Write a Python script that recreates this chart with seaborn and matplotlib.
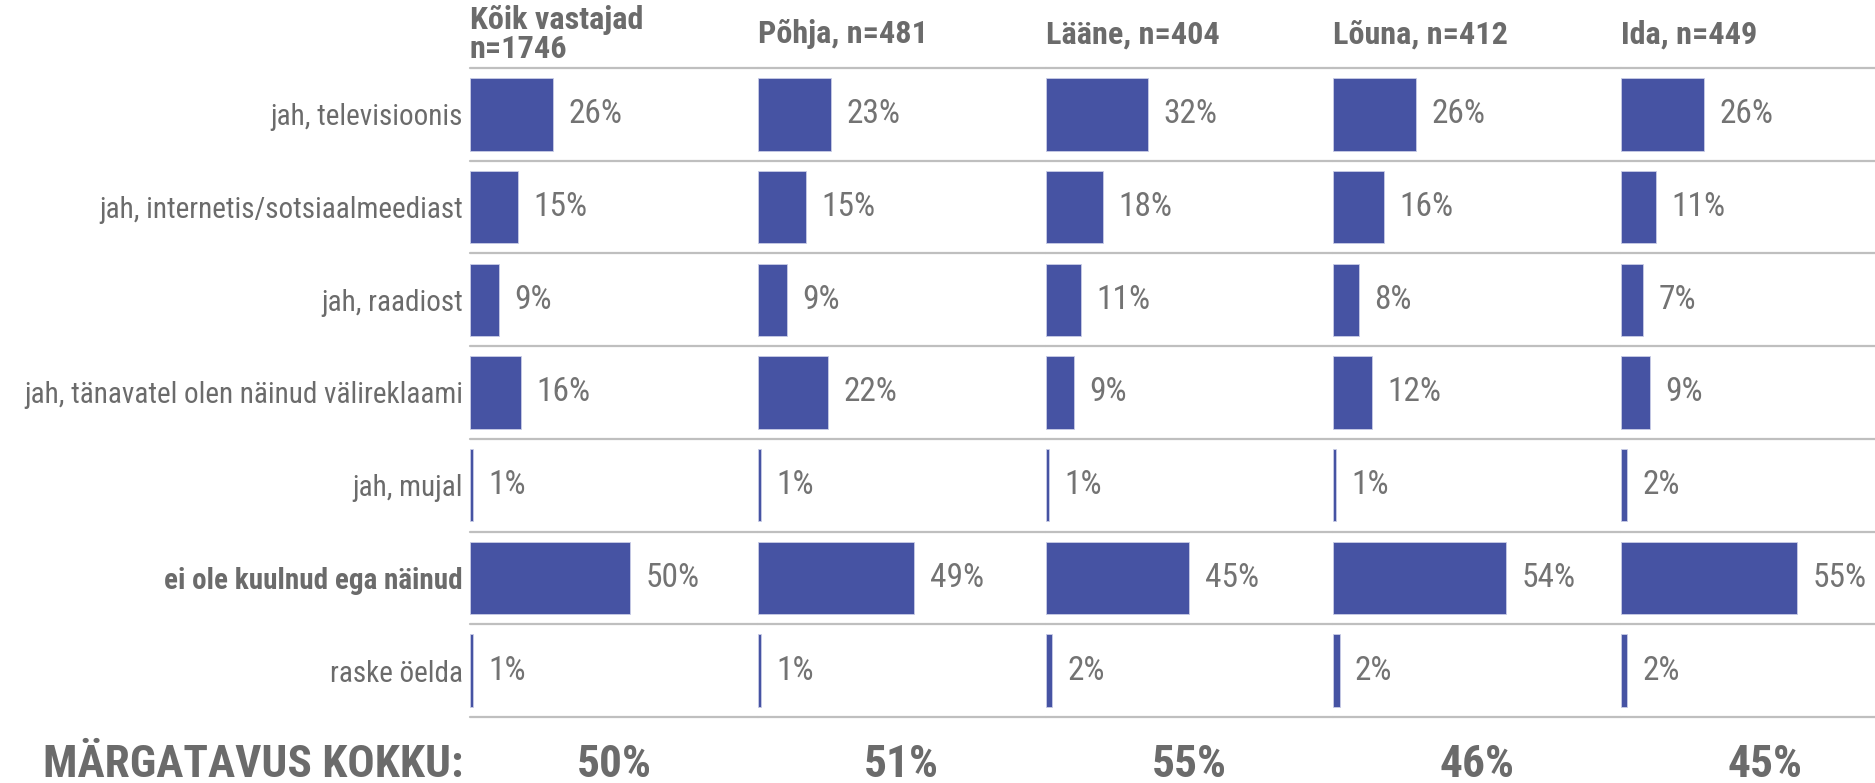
import pandas as pd
import seaborn as sns
import matplotlib.pyplot as plt
from matplotlib import font_manager as fm
from matplotlib.font_manager import FontProperties
from matplotlib.textpath import TextPath

# andmed
categories = [
    "jah, televisioonis",
    "jah, internetis/sotsiaalmeediast",
    "jah, raadiost",
    "jah, tänavatel olen näinud välireklaami",
    "jah, mujal",
    "ei ole kuulnud ega näinud",
    "raske öelda",
]
groups = ["Kõik vastajad\nn=1746", "Põhja, n=481", "Lääne, n=404", "Lõuna, n=412", "Ida, n=449"]
koik = [26, 15, 9, 16, 1, 50, 1]
pohja = [23, 15, 9, 22, 1, 49, 1]
laane = [32, 18, 11, 9, 1, 45, 2]
louna = [26, 16, 8, 12, 1, 54, 2]
ida = [26, 11, 7, 9, 2, 55, 2]
totals = [50, 51, 55, 46, 45]
total_label = "MÄRGATAVUS KOKKU:"

series = [koik, pohja, laane, louna, ida]

BAR = "#4653A3"
GREY = "#6b6b6b"
LINE = "#bfbfbf"

# kitsas kiri (Arial Narrow laadne), millel on ka paks lõige
faces = {}
for f in fm.fontManager.ttflist:
    w = f.weight if isinstance(f.weight, int) else (700 if "bold" in str(f.weight) else 400)
    faces.setdefault(f.name, set()).add(w)


def has_bold(name):
    ws = faces.get(name, set())
    return 400 in ws and any(w >= 700 for w in ws)


narrow = next((f for f in ["Liberation Sans Narrow", "Arial Narrow", "Roboto Condensed",
                           "Archivo Narrow", "PT Sans Narrow", "Open Sans Condensed",
                           "Fira Sans Condensed"] if has_bold(f)), "Liberation Sans")
FONT = [narrow, "DejaVu Sans"]


def fit_size(text, px, weight="normal"):
    # fondi suurus nii, et tekst oleks umbes px laiune (dpi 100)
    w = TextPath((0, 0), text, size=100,
                 prop=FontProperties(family=FONT, weight=weight)).get_extents().width
    return px * 0.72 * 100 / w


cat_fs = fit_size("jah, televisioonis", 191)
val_fs = fit_size("26%", 51)
head_fs = fit_size("Kõik vastajad", 170, "bold")
tot_fs = fit_size(total_label, 415, "bold")

sns.set_theme(style="white")
plt.rcParams["font.family"] = FONT

fig = plt.figure(figsize=(18.75, 7.83), dpi=100)

W, H = 1875, 783
x0, step = 470, 287.75
top, bottom = 68, 717

for i, (grp, vals) in enumerate(zip(groups, series)):
    ax = fig.add_axes([(x0 + i * step) / W, 1 - bottom / H, step / W, (bottom - top) / H])
    df = pd.DataFrame({"kategooria": categories, "osakaal": vals})
    sns.barplot(data=df, x="osakaal", y="kategooria", orient="h", color=BAR,
                width=0.78, edgecolor="#c9cde6", linewidth=0.6, saturation=1, ax=ax)
    for c in ax.containers:
        ax.bar_label(c, labels=[f"{v}%" for v in vals], padding=11,
                     fontsize=val_fs, color="#737373")
    ax.set_xlim(0, 90)
    ax.set_ylim(6.5, -0.5)
    for k in range(len(categories) + 1):
        ax.axhline(k - 0.5, color=LINE, lw=1.6, clip_on=False)
    ax.set_xlabel("")
    ax.set_ylabel("")
    ax.set_xticks([])
    for s in ax.spines.values():
        s.set_visible(False)
    ax.text(0, 1.052, grp, transform=ax.transAxes, ha="left", va="center",
            fontsize=head_fs, fontweight="bold", color=GREY, linespacing=0.95)
    ax.text(0.5, -0.074, f"{totals[i]}%", transform=ax.transAxes, ha="center",
            va="center", fontsize=tot_fs, fontweight="bold", color=GREY)
    if i == 0:
        ax.tick_params(axis="y", length=0, pad=5)
        ax.set_yticks(range(len(categories)))
        ax.set_yticklabels(categories, fontsize=cat_fs, color=GREY)
        for lab in ax.get_yticklabels():
            if lab.get_text() == "ei ole kuulnud ega näinud":
                lab.set_fontweight("bold")
        ax.text(-0.024, -0.074, total_label, transform=ax.transAxes, ha="right",
                va="center", fontsize=tot_fs, fontweight="bold", color=GREY)
    else:
        ax.set_yticks([])

fig.savefig("out.png", dpi=100)
